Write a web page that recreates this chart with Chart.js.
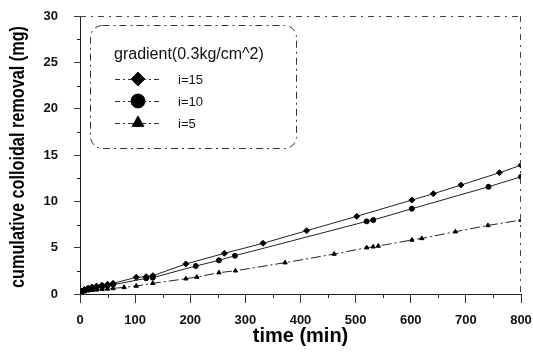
<!DOCTYPE html>
<html><head><meta charset="utf-8">
<script src="https://cdn.jsdelivr.net/npm/chart.js@4"></script>
<style>html,body{margin:0;padding:0;background:#fff}#wrap{width:533px;height:352px}</style>
</head><body><div id="wrap"><canvas id="c" width="533" height="352"></canvas></div>
<script>
const xTicks = [0,100,200,300,400,500,600,700,800];
const yTicks = [0,5,10,15,20,25,30];
const seriesLabels = ['i=15','i=10','i=5'];
const legendTitle = 'gradient(0.3kg/cm^2)';
const xTitle = 'time (min)';
const yTitle = 'cumulative colloidal removal (mg)';

const timeI15 = [0,3,8,15,22,30,40,50,60,102,120,132,192,262,332,411,502,602,641,691,761,800];
const remI15  = [0.05,0.3,0.5,0.65,0.75,0.85,0.95,1.05,1.15,1.8,1.87,1.97,3.24,4.39,5.47,6.83,8.38,10.14,10.82,11.76,13.09,13.9];
const timeI10 = [0,3,8,15,22,30,40,50,60,120,132,210,252,281,520,532,602,741,800];
const remI10  = [0.03,0.25,0.4,0.55,0.65,0.72,0.8,0.9,1.0,1.69,1.76,3.02,3.63,4.13,7.84,7.98,9.2,11.57,12.65];
const timeI5  = [0,3,8,15,22,30,40,50,60,80,102,132,192,212,252,282,372,461,520,532,541,602,620,681,740,800];
const remI5   = [0.02,0.15,0.25,0.35,0.4,0.45,0.5,0.55,0.6,0.72,0.86,1.15,1.65,1.83,2.3,2.51,3.38,4.31,5.0,5.1,5.18,5.83,6.0,6.72,7.4,7.98];

const pts = (xs, ys) => xs.map((x, i) => ({x, y: ys[i]}));
const styles = ['rectRot','circle','triangle'];
const FONT = '"Liberation Sans", Arial, sans-serif';

const frame = {
  id: 'frame',
  afterDraw(chart) {
    const {ctx, chartArea: a, scales: {x, y}} = chart;
    ctx.save();
    ctx.strokeStyle = '#444';
    ctx.lineWidth = 1;
    ctx.setLineDash([6,5,2,5]);
    ctx.beginPath();
    ctx.moveTo(a.left, a.top + 0.5); ctx.lineTo(a.right, a.top + 0.5);
    ctx.moveTo(a.right - 0.5, a.top); ctx.lineTo(a.right - 0.5, a.bottom);
    ctx.stroke();
    ctx.setLineDash([]);
    ctx.strokeStyle = '#222';
    ctx.beginPath();
    for (let v = 2.5; v < 30; v += 5) {
      const py = Math.round(y.getPixelForValue(v)) + 0.5;
      ctx.moveTo(a.left - 3, py); ctx.lineTo(a.left, py);
    }
    for (let v = 50; v < 800; v += 100) {
      const px = Math.round(x.getPixelForValue(v)) + 0.5;
      ctx.moveTo(px, a.bottom); ctx.lineTo(px, a.bottom + 4);
    }
    ctx.stroke();
    // y title, condensed
    ctx.save();
    ctx.fillStyle = '#000';
    ctx.font = 'bold 21px ' + FONT;
    ctx.textAlign = 'center';
    ctx.textBaseline = 'middle';
    const w = ctx.measureText(yTitle).width;
    ctx.translate(18, 157);
    ctx.rotate(-Math.PI / 2);
    ctx.scale(262 / w, 1);
    ctx.fillText(yTitle, 0, 0);
    ctx.restore();
    // legend box
    const bx = 90, by = 25, bw = 206, bh = 123, r = 12;
    ctx.strokeStyle = '#333';
    ctx.setLineDash([7,4,2,4]);
    ctx.beginPath();
    ctx.roundRect(bx + 0.5, by + 0.5, bw, bh, r);
    ctx.stroke();
    ctx.setLineDash([]);
    ctx.fillStyle = '#111';
    ctx.font = '16px ' + FONT;
    ctx.textBaseline = 'middle';
    ctx.textAlign = 'left';
    ctx.fillText(legendTitle, 114, 55);
    ctx.font = '13px ' + FONT;
    chart.data.datasets.forEach((ds, i) => {
      const cy = 79 + i * 22;
      ctx.strokeStyle = '#333';
      ctx.setLineDash([5,3,2,3]);
      ctx.beginPath(); ctx.moveTo(115, cy + 0.5); ctx.lineTo(162, cy + 0.5); ctx.stroke();
      ctx.setLineDash([]);
      ctx.fillStyle = '#000';
      Chart.helpers.drawPoint(ctx, {pointStyle: ds.pointStyle, radius: 7, rotation: 0, borderWidth: 1}, 138, cy);
      ctx.fill();
      ctx.fillStyle = '#111';
      ctx.fillText(ds.label, 178, cy + 1);
    });
    ctx.restore();
  }
};

const mkDs = (label, data, i, dash) => ({
  label, data, pointStyle: styles[i], pointRadius: i === 0 ? 3 : 2.5,
  backgroundColor: '#000', borderColor: '#222', borderWidth: 1,
  pointBackgroundColor: '#000', pointBorderColor: '#000',
  showLine: true, borderDash: dash, tension: 0
});

new Chart(document.getElementById('c'), {
  type: 'scatter',
  data: {
    datasets: [
      mkDs(seriesLabels[0], pts(timeI15, remI15), 0, []),
      mkDs(seriesLabels[1], pts(timeI10, remI10), 1, []),
      mkDs(seriesLabels[2], pts(timeI5, remI5), 2, [10,3,2,3])
    ]
  },
  plugins: [frame],
  options: {
    responsive: false, animation: false,
    layout: {padding: {top: 16, right: 12, left: 0, bottom: 0}},
    plugins: {legend: {display: false}, tooltip: {enabled: false}},
    scales: {
      x: {
        type: 'linear', min: 0, max: 800,
        afterBuildTicks: s => { s.ticks = xTicks.map(v => ({value: v})); },
        afterFit: s => { s.height = 58; s.paddingRight = 0; s.paddingLeft = 0; },
        grid: {drawOnChartArea: false, tickLength: 9, color: '#333'},
        border: {color: '#222', dash: [6,4,2,4]},
        ticks: {color: '#111', padding: 10, font: {size: 13, weight: 'bold', family: FONT}},
        title: {display: true, text: xTitle, color: '#000', padding: {top: -3},
                font: {size: 20, weight: 'bold', family: FONT}}
      },
      y: {
        min: 0, max: 30,
        afterBuildTicks: s => { s.ticks = yTicks.map(v => ({value: v})); },
        afterFit: s => { s.width = 80; s.paddingTop = 0; s.paddingBottom = 0; },
        grid: {drawOnChartArea: false, tickLength: 6, color: '#333'},
        border: {color: '#222', dash: [6,4,2,4]},
        ticks: {color: '#111', padding: 16, font: {size: 13, weight: 'bold', family: FONT}},
        title: {display: false}
      }
    }
  }
});
</script></body></html>
